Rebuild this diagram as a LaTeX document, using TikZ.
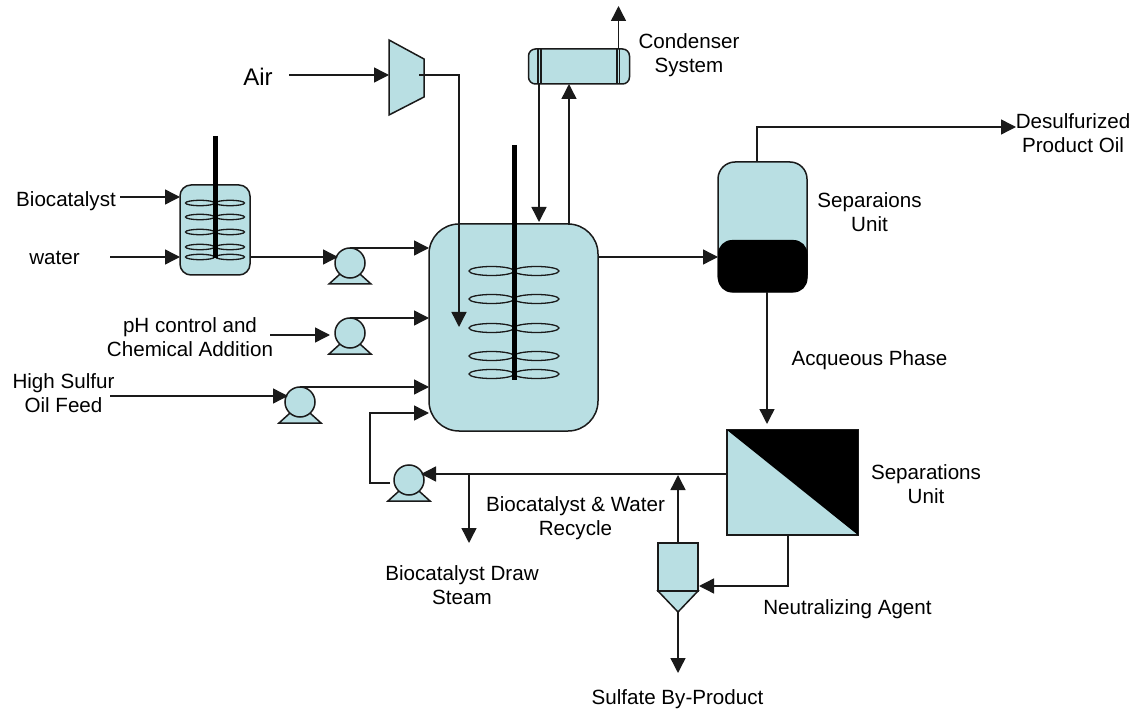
\documentclass[tikz,border=0pt]{standalone}
\usepackage{fontspec}
\setmainfont{Liberation Sans}
\usetikzlibrary{arrows.meta}
\definecolor{Tank}{HTML}{B9DFE3}
\definecolor{Line}{HTML}{1A1A1A}
\tikzset{
  flow/.style={draw=Line,line width=1.4pt,-{Triangle[length=15pt,width=15pt]}},
  pipe/.style={draw=Line,line width=1.4pt},
  vessel/.style={draw=Line,fill=Tank,line width=1.5pt,inner sep=0pt,outer sep=0pt},
  pumpbody/.style={vessel,circle,minimum size=30pt},
  blade/.style={draw=Line,line width=1.3pt},
  shaft/.style={draw=black,line width=5pt},
  label/.style={align=center,font=\fontsize{20.6}{24}\selectfont,inner sep=0pt}
}
\begin{document}
\begin{tikzpicture}[x=1pt,y=-1pt]
        \useasboundingbox (0,0) rectangle (1138,711);
        % vessels
        \node[vessel,rounded corners=11pt,minimum width=70pt,minimum height=90pt] (tank) at (215,230) {};
        \node[vessel,rounded corners=30pt,minimum width=169pt,minimum height=207pt] (reactor) at (513.5,327.5) {};
        \node[vessel,rounded corners=7pt,minimum width=101pt,minimum height=35pt] (condenser) at (579,66.5) {};
        \node[vessel,rounded corners=17pt,minimum width=89pt,minimum height=130pt] (separator) at (762.5,227) {};
        \node[vessel,minimum width=131pt,minimum height=105pt] (membrane) at (792.5,482.5) {};
        \node[vessel,minimum width=40pt,minimum height=48pt] (settler) at (678,567) {};
        \draw[vessel] (389,40) -- (424,59) -- (424,97) -- (389,115) -- cycle;
        \coordinate (compressor) at (389,75);
        \draw[vessel] (658,591) -- (698,591) -- (678,612) -- cycle;
        \coordinate (cone) at (678,612);
        \fill[black,rounded corners=14pt] (718,240) rectangle (807.5,292.5);
        \fill[black] (727,430) -- (858,430) -- (858,535) -- cycle;
        \foreach \x in {538,541,617,619.5}{\draw[pipe] (\x,49) -- (\x,84);}
        % agitators
        \foreach \y in {203,217,232,247,257}{
          \draw[blade] (200,\y) ellipse (14.5pt and 2.7pt);
          \draw[blade] (230,\y) ellipse (14.5pt and 2.7pt);
        }
        \foreach \y in {271,299,328,356,374}{
          \draw[blade] (491.5,\y) ellipse (22.5pt and 4.5pt);
          \draw[blade] (536.5,\y) ellipse (22.5pt and 4.5pt);
        }
        \draw[shaft] (215,136) -- (215,258);
        \draw[shaft] (514,145) -- (514,380);
        % pumps
        \foreach \n/\x/\y in {pumpa/350/263,pumpb/350/333,pumpc/300/402,pumpd/409/480}{
          \draw[vessel] (\x-21,\y+21) -- (\x+21,\y+21) -- (\x,\y+2) -- cycle;
          \node[pumpbody] (\n) at (\x,\y) {};
        }
        % free ends
        \coordinate (bioin) at (120,197);
        \coordinate (waterin) at (110,257);
        \coordinate (pumpain) at (338,257);
        \coordinate (phin) at (270,335);
        \coordinate (pumpbin) at (330,335);
        \coordinate (feedin) at (110,396);
        \coordinate (pumpcin) at (288,396);
        \coordinate (airin) at (289,75);
        \coordinate (airout) at (419,75);
        \coordinate (airend) at (459,327);
        \coordinate (refluxtop) at (539,84);
        \coordinate (refluxend) at (539,222);
        \coordinate (vapour) at (569,224);
        \coordinate (ventbase) at (618.5,49);
        \coordinate (ventend) at (618.5,6);
        \coordinate (oilbase) at (757,162);
        \coordinate (oilend) at (1016,127);
        \coordinate (aqbase) at (767,292);
        \coordinate (aqend) at (767,424);
        \coordinate (recycle) at (727,474);
        \coordinate (pumpdin) at (421,474);
        \coordinate (pumpdout) at (390,483);
        \coordinate (drawbase) at (469,474);
        \coordinate (drawend) at (469,543);
        \coordinate (sulfateend) at (678,673);
        \coordinate (settlertop) at (678,543);
        \coordinate (settlerend) at (678,475);
        \coordinate (neutbase) at (788,535);
        \coordinate (neutend) at (699,586);
        % streams
        \draw[flow] (bioin) -- (tank.west |- bioin);
        \draw[flow] (waterin) -- (tank.west |- waterin);
        \draw[flow] (tank.east |- waterin) -- (pumpain);
        \draw[flow] (pumpa.north) -- (reactor.west |- pumpa.north);
        \draw[flow] (phin) -- (pumpbin);
        \draw[flow] (pumpb.north) -- (reactor.west |- pumpb.north);
        \draw[flow] (feedin) -- (pumpcin);
        \draw[flow] (pumpc.north) -- (reactor.west |- pumpc.north);
        \draw[flow] (pumpdout) -- (370,483) -- (370,413) -- (reactor.west |- 0,413);
        \draw[flow] (airin) -- (compressor);
        \draw[flow] (airout) -- (airend |- airout) -- (airend);
        \draw[flow] (refluxtop) -- (refluxend);
        \draw[flow] (vapour) -- (vapour |- condenser.south);
        \draw[flow] (ventbase) -- (ventend);
        \draw[flow] (reactor.east |- waterin) -- (separator.west |- waterin);
        \draw[flow] (oilbase) -- (oilbase |- oilend) -- (oilend);
        \draw[flow] (aqbase) -- (aqend);
        \draw[flow] (recycle) -- (pumpdin);
        \draw[flow] (drawbase) -- (drawend);
        \draw[flow] (settlertop) -- (settlerend);
        \draw[flow] (neutbase) -- (neutbase |- neutend) -- (neutend);
        \draw[flow] (cone) -- (sulfateend);
        % labels
        \node[label,font=\fontsize{24}{28}\selectfont] (air) at (258,77) {Air};
        \node[label] (bio) at (66,201) {Biocatalyst};
        \node[label] (water) at (54.5,258) {water};
        \node[label] (ph) at (190,337) {pH control and\\Chemical Addition};
        \node[label] (feed) at (63.5,393) {High Sulfur\\Oil Feed};
        \node[label] (cond) at (689,55) {Condenser\\System};
        \node[label] (oil) at (1073,133) {Desulfurized\\Product Oil};
        \node[label] (sepa) at (869.5,212) {Separaions\\Unit};
        \node[label] (aq) at (869.5,360) {Acqueous Phase};
        \node[label] (sepb) at (926,484) {Separations\\Unit};
        \node[label] (rec) at (575.5,518) {Biocatalyst \& Water\\Recycle};
        \node[label] (drw) at (462,585) {Biocatalyst Draw\\Steam};
        \node[label] (neut) at (847.5,609) {Neutralizing Agent};
        \node[label] (sulf) at (677.5,699) {Sulfate By-Product};
      \end{tikzpicture}
\end{document}
